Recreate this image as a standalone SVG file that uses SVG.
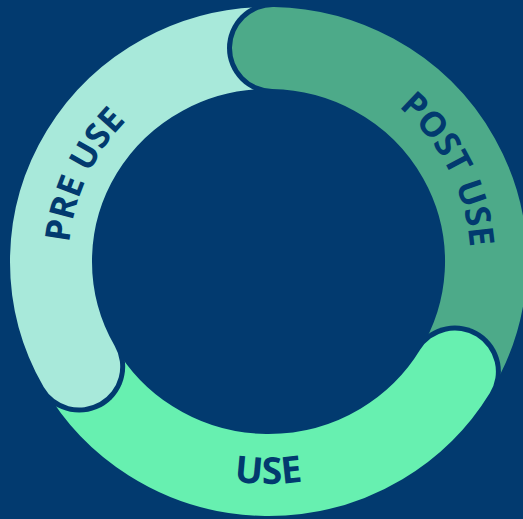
<svg xmlns="http://www.w3.org/2000/svg" width="523" height="519" viewBox="0 0 523 519">
<style>
.seg{fill:none;stroke-width:82;stroke-linecap:round}
.lbl{font-family:"Open Sans","Liberation Sans",sans-serif;font-weight:700;font-size:34.5px;fill:#023a6f}
.big{font-size:37px}
</style>
<defs>
<mask id="mPre" maskUnits="userSpaceOnUse" x="0" y="0" width="523" height="519"><rect width="523" height="519" fill="#fff"/><circle cx="273" cy="48" r="46" fill="#000"/></mask>
<mask id="mPost" maskUnits="userSpaceOnUse" x="0" y="0" width="523" height="519"><rect width="523" height="519" fill="#fff"/><circle cx="454.9" cy="371.5" r="46" fill="#000"/></mask>
<mask id="mUse" maskUnits="userSpaceOnUse" x="0" y="0" width="523" height="519"><rect width="523" height="519" fill="#fff"/><circle cx="79.2" cy="366.6" r="46" fill="#000"/></mask>
<path id="tPre" d="M95.3 361.5 A200 200 0 0 1 233.8 64.5"/>
<path id="tPost" d="M303.6 62.6 A202 202 0 0 1 450.1 350.1"/>
<path id="tUse" d="M75.4 373 A223.5 223.5 0 0 0 461.6 373"/>
</defs>
<rect width="523" height="519" fill="#023a6f"/>
<g id="pre-use">
<path class="seg" stroke="#a8e9da" mask="url(#mPre)" d="M79.2 366.6 A217.5 213.5 0 0 1 273 48"/>
<text class="lbl"><textPath href="#tPre" startOffset="50%" text-anchor="middle">PRE USE</textPath></text>
</g>
<g id="post-use">
<path class="seg" stroke="#4daa89" mask="url(#mPost)" d="M273 48 A217.5 213.5 0 0 1 454.9 371.5"/>
<text class="lbl"><textPath href="#tPost" startOffset="50%" text-anchor="middle">POST USE</textPath></text>
</g>
<g id="use">
<path class="seg" stroke="#67f0b0" mask="url(#mUse)" d="M454.9 371.5 A217.5 213.5 0 0 1 79.2 366.6"/>
<text class="lbl big"><textPath href="#tUse" startOffset="50%" text-anchor="middle">USE</textPath></text>
</g>
<g id="connectors"/>
</svg>
